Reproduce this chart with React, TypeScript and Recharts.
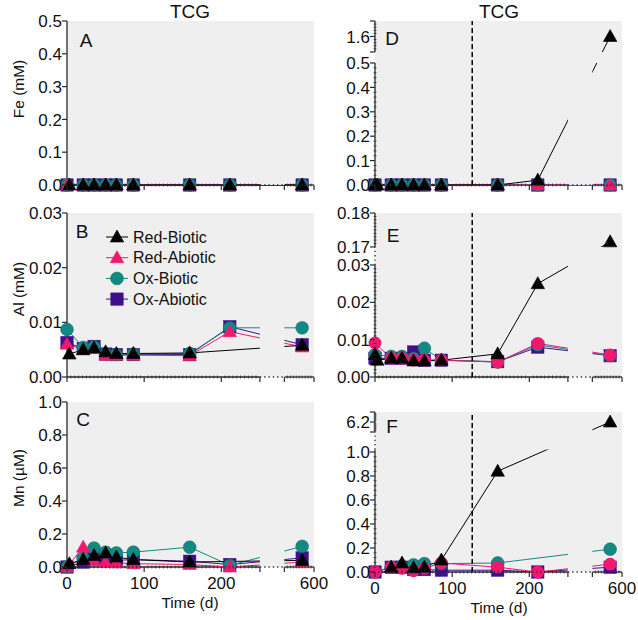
import React from 'react';
import { LineChart, Line, XAxis, YAxis, CartesianGrid, ReferenceLine, ReferenceArea, Legend } from 'recharts';

const FONT = '"Liberation Sans", Arial, Helvetica, sans-serif';
const BG = '#efefef';
const AXIS = '#2a2a2a';
const TEXT = '#111111';

// ---------- data ----------
const days = [0, 3, 21, 35, 50, 64, 86, 159, 211, 580];

// A: Fe (mM), left
const feLeftRedBiotic = [null, 0, 0, 0, 0, 0, 0, 0, 0, 0];
const feLeftRedAbiotic = [0, null, 0, 0, 0, 0, 0, 0, 0, 0];
const feLeftOxBiotic = [0, null, 0, 0, 0, 0, 0, 0, 0, 0];
const feLeftOxAbiotic = [0, null, 0, 0, 0, 0, 0, 0, 0, 0];

// B: Al (mM), left
const alLeftRedBiotic = [null, 0.0042, 0.005, 0.0053, 0.0046, 0.0043, 0.0043, 0.0044, null, 0.0058];
const alLeftRedAbiotic = [0.006, null, 0.005, 0.0052, 0.004, 0.004, 0.004, 0.0039, 0.0083, 0.0055];
const alLeftOxBiotic = [0.0087, null, 0.0054, 0.0055, 0.0042, 0.0041, 0.0042, 0.0043, 0.009, 0.009];
const alLeftOxAbiotic = [0.0063, null, 0.0052, 0.0056, 0.0042, 0.0041, 0.0041, 0.0041, 0.0092, 0.0059];

// C: Mn (uM), left
const mnLeftRedBiotic = [null, 0.02, 0.045, 0.07, 0.085, 0.06, 0.045, 0.03, null, 0.04];
const mnLeftRedAbiotic = [0, null, 0.12, 0.04, 0.03, 0.025, 0.02, 0.015, 0, 0.03];
const mnLeftOxBiotic = [0, null, 0.055, 0.115, 0.09, 0.085, 0.09, 0.12, 0.01, 0.125];
const mnLeftOxAbiotic = [0, null, 0.03, 0.05, 0.05, 0.04, 0.045, 0.035, 0.015, 0.055];

// D: Fe (mM), right
const feRightRedBiotic = [0, 0, 0, 0, 0, 0, 0, 0, 0.02, 1.6];
const feRightRedAbiotic = [0, null, 0, 0, 0, 0, 0, 0, 0, 0];
const feRightOxBiotic = [0, null, 0, 0, 0, 0, 0, 0, 0, 0];
const feRightOxAbiotic = [0, null, 0, 0, 0, 0, 0, 0, 0, 0];

// E: Al (mM), right
const alRightRedBiotic = [0.006, 0.0045, 0.005, 0.005, 0.0043, 0.0043, 0.0045, 0.0062, 0.025, 0.1715];
const alRightRedAbiotic = [0.0091, null, 0.005, 0.005, 0.0045, 0.0045, 0.0045, 0.004, 0.009, 0.0059];
const alRightOxBiotic = [0.006, null, 0.0055, 0.0055, 0.005, 0.0077, 0.0045, 0.004, 0.0086, 0.0057];
const alRightOxAbiotic = [0.005, null, 0.005, 0.005, 0.0067, 0.0045, 0.0045, 0.0041, 0.008, 0.0057];

// F: Mn (uM), right
const mnRightRedBiotic = [null, null, 0.04, 0.075, 0.035, 0.04, 0.1, 0.84, null, 6.2];
const mnRightRedAbiotic = [0, null, 0.04, 0.03, 0.01, 0.03, 0.075, 0.04, 0, 0.065];
const mnRightOxBiotic = [0, null, 0.04, 0.05, 0.06, 0.07, 0.07, 0.075, null, 0.19];
const mnRightOxAbiotic = [0, null, 0.04, 0.04, 0.02, 0.02, 0.015, 0.015, 0, 0.04];

// axis ticks
const xMajorTicks = [0, 100, 200, 250, 550, 600];
const xTickLabels = [0, 100, 200, 600];
const xAllTicks: number[] = [];
for (let t = 0; t <= 250; t += 5) xAllTicks.push(t);
for (let t = 550; t <= 600; t += 5) xAllTicks.push(t);

const feLeftTicks = [0, 0.1, 0.2, 0.3, 0.4, 0.5];
const alLeftTicks = [0, 0.01, 0.02, 0.03];
const mnLeftTicks = [0, 0.2, 0.4, 0.6, 0.8, 1.0];
const feRightTicks = [0, 0.1, 0.2, 0.3, 0.4, 0.5, 1.5, 1.6, 1.7];
const feRightLabels = [0, 0.1, 0.2, 0.3, 0.4, 0.5, 1.6];
const alRightTicks = [0, 0.01, 0.02, 0.03, 0.17, 0.18];
const mnRightTicks = [0, 0.2, 0.4, 0.6, 0.8, 1.0, 6.1, 6.2, 6.3];
const mnRightLabels = [0, 0.2, 0.4, 0.6, 0.8, 1.0, 6.2];

function minorTicks(ranges: [number, number, number][]): number[] {
  const out: number[] = [];
  ranges.forEach(([a, b, step]) => {
    const n = Math.round((b - a) / step);
    for (let i = 0; i <= n; i++) out.push(Math.round((a + i * step) * 1e6) / 1e6);
  });
  return out;
}
const feRightMinor = minorTicks([[0, 0.5, 0.02], [1.5, 1.7, 0.02]]);
const alRightMinor = minorTicks([[0, 0.03, 0.001], [0.17, 0.18, 0.001]]);
const mnRightMinor = minorTicks([[0, 1.0, 0.04], [6.1, 6.3, 0.02]]);

// ---------- series config ----------
type Key = 'rb' | 'ra' | 'ob' | 'oa';
type Shape = 'triangle' | 'circle' | 'square';
const SERIES: { key: Key; name: string; color: string; shape: Shape }[] = [
  { key: 'rb', name: 'Red-Biotic', color: '#000000', shape: 'triangle' },
  { key: 'ra', name: 'Red-Abiotic', color: '#f2176f', shape: 'triangle' },
  { key: 'ob', name: 'Ox-Biotic', color: '#118a84', shape: 'circle' },
  { key: 'oa', name: 'Ox-Abiotic', color: '#3e0f8c', shape: 'square' },
];
const DRAW_ORDER: Key[] = ['oa', 'ob', 'ra', 'rb'];

function buildRows(rb: (number | null)[], ra: (number | null)[], ob: (number | null)[], oa: (number | null)[]) {
  return days.map((day, i) => ({ day, rb: rb[i], ra: ra[i], ob: ob[i], oa: oa[i] }));
}

// ---------- broken (piecewise linear) scale ----------
type Piece = { d: [number, number]; f: [number, number] };
function brokenScale(pieces: Piece[]): any {
  let dom: any[] = [pieces[0].d[0], pieces[pieces.length - 1].d[1]];
  let rng: any[] = [0, 1];
  const frac = (v: number): number => {
    for (let i = 0; i < pieces.length; i++) {
      const p = pieces[i];
      if (v <= p.d[1] || i === pieces.length - 1) {
        if (v >= p.d[0] || i === 0) {
          return p.f[0] + ((v - p.d[0]) / (p.d[1] - p.d[0])) * (p.f[1] - p.f[0]);
        }
        const q = pieces[i - 1];
        return q.f[1] + ((v - q.d[1]) / (p.d[0] - q.d[1])) * (p.f[0] - q.f[1]);
      }
    }
    return 1;
  };
  const unfrac = (fr: number): number => {
    for (let i = 0; i < pieces.length; i++) {
      const p = pieces[i];
      if (fr <= p.f[1] || i === pieces.length - 1) {
        if (fr >= p.f[0] || i === 0) {
          return p.d[0] + ((fr - p.f[0]) / (p.f[1] - p.f[0])) * (p.d[1] - p.d[0]);
        }
        const q = pieces[i - 1];
        return q.d[1] + ((fr - q.f[1]) / (p.f[0] - q.f[1])) * (p.d[0] - q.d[1]);
      }
    }
    return pieces[pieces.length - 1].d[1];
  };
  const s: any = (v: any) => {
    if (v === null || v === undefined) return undefined;
    const n = Number(v);
    if (!isFinite(n)) return undefined;
    return Number(rng[0]) + frac(n) * (Number(rng[1]) - Number(rng[0]));
  };
  s.domain = (d?: any) => {
    if (d === undefined) return dom.slice();
    dom = Array.from(d);
    return s;
  };
  s.range = (r?: any) => {
    if (r === undefined) return rng.slice();
    rng = Array.from(r);
    return s;
  };
  s.copy = () => brokenScale(pieces).domain(dom).range(rng);
  s.ticks = () => dom.slice();
  s.nice = () => s;
  s.tickFormat = () => (x: any) => String(x);
  s.invert = (px: number) => unfrac((px - Number(rng[0])) / (Number(rng[1]) - Number(rng[0])));
  return s;
}

const X_PIECES: Piece[] = [
  { d: [0, 250], f: [0, 0.781] },
  { d: [550, 600], f: [0.88, 1] },
];

// ---------- markers ----------
function MarkerShape({ shape, cx, cy, color }: { shape: Shape; cx: number; cy: number; color: string }) {
  if (shape === 'triangle') {
    const w = 13.5;
    const pts = `${cx},${cy - 7} ${cx + w / 2},${cy + 5} ${cx - w / 2},${cy + 5}`;
    return <polygon points={pts} fill={color} stroke={color} strokeWidth={0.6} strokeLinejoin="miter" />;
  }
  if (shape === 'circle') {
    return <circle cx={cx} cy={cy} r={6.4} fill={color} stroke="#0b5f5b" strokeOpacity={color === '#118a84' ? 0.6 : 0} strokeWidth={0.8} />;
  }
  return <rect x={cx - 6.2} y={cy - 6.2} width={12.4} height={12.4} fill={color} stroke={color} strokeWidth={0.5} />;
}

function makeDot(shape: Shape, color: string) {
  return (p: any) => {
    const key = `dot-${p.index}`;
    if (p.cx == null || p.cy == null || p.value == null) return <g key={key} />;
    return (
      <g key={key}>
        <MarkerShape shape={shape} cx={p.cx} cy={p.cy} color={color} />
      </g>
    );
  };
}

// ---------- ticks ----------
function renderXTick(props: any, showLabel: boolean) {
  const { x, y, payload } = props;
  const v = Number(payload.value);
  const isMajor = xMajorTicks.indexOf(v) >= 0;
  return (
    <g>
      {isMajor ? (
        <line x1={x} x2={x} y1={y} y2={y + 5} stroke={AXIS} strokeWidth={1.2} />
      ) : (
        <line x1={x} x2={x} y1={y - 1.5} y2={y + 1.5} stroke={AXIS} strokeWidth={0.8} />
      )}
      {showLabel && xTickLabels.indexOf(v) >= 0 ? (
        <text x={x} y={y + 22} textAnchor="middle" fontSize={17} fontFamily={FONT} fill={TEXT}>
          {v}
        </text>
      ) : null}
    </g>
  );
}
const XTickLabeled = (props: any) => renderXTick(props, true);
const XTickPlain = (props: any) => renderXTick(props, false);

const near = (list: number[], v: number) => list.some((l) => Math.abs(l - v) < 1e-9);

function makeYTick(majors: number[], labeled: number[], decimals: number) {
  return (props: any) => {
    const { x, y, payload } = props;
    const v = Number(payload.value);
    const isMajor = near(majors, v);
    const show = near(labeled, v);
    return (
      <g>
        {isMajor ? (
          <line x1={x - 5} x2={x} y1={y} y2={y} stroke={AXIS} strokeWidth={1.2} />
        ) : (
          <line x1={x - 1.5} x2={x + 1.5} y1={y} y2={y} stroke={AXIS} strokeWidth={0.8} />
        )}
        {show ? (
          <text x={x - 5} y={y} dy="0.36em" textAnchor="end" fontSize={17} fontFamily={FONT} fill={TEXT}>
            {v.toFixed(decimals)}
          </text>
        ) : null}
      </g>
    );
  };
}

// ---------- panels ----------
interface PanelCfg {
  id: string;
  plotX: number;
  top: number;
  bottom: number;
  showXLabels: boolean;
  rows: any[];
  yDomain: [number, number];
  yScale: any;
  yTicks: number[];
  yTick: (p: any) => any;
  ySolid: [number, number][];
  yDotted: [number, number][];
  yGaps: [number, number][];
  dashedX: number | null;
  shapes: Record<Key, Shape>;
  legend: boolean;
}

const defaultShapes: Record<Key, Shape> = { rb: 'triangle', ra: 'triangle', ob: 'circle', oa: 'square' };
const rightCircleShapes: Record<Key, Shape> = { rb: 'triangle', ra: 'circle', ob: 'circle', oa: 'square' };

const LEFT_X = 67;
const RIGHT_X = 375;
const PLOT_W = 247;
const Y_AXIS_W = 60;
const DASHED_DAY = 126;

const mergeTicks = (a: number[], b: number[]) => {
  const out = a.slice();
  b.forEach((v) => {
    if (!near(out, v)) out.push(v);
  });
  return out.sort((p, q) => p - q);
};

const PANELS: PanelCfg[] = [
  {
    id: 'A', plotX: LEFT_X, top: 21, bottom: 185, showXLabels: false,
    rows: buildRows(feLeftRedBiotic, feLeftRedAbiotic, feLeftOxBiotic, feLeftOxAbiotic),
    yDomain: [0, 0.5], yScale: brokenScale([{ d: [0, 0.5], f: [0, 1] }]),
    yTicks: feLeftTicks, yTick: makeYTick(feLeftTicks, feLeftTicks, 1),
    ySolid: [[0, 0.5]], yDotted: [], yGaps: [], dashedX: null, shapes: defaultShapes, legend: false,
  },
  {
    id: 'B', plotX: LEFT_X, top: 213, bottom: 377, showXLabels: false,
    rows: buildRows(alLeftRedBiotic, alLeftRedAbiotic, alLeftOxBiotic, alLeftOxAbiotic),
    yDomain: [0, 0.03], yScale: brokenScale([{ d: [0, 0.03], f: [0, 1] }]),
    yTicks: alLeftTicks, yTick: makeYTick(alLeftTicks, alLeftTicks, 2),
    ySolid: [[0, 0.03]], yDotted: [], yGaps: [], dashedX: null, shapes: defaultShapes, legend: true,
  },
  {
    id: 'C', plotX: LEFT_X, top: 402, bottom: 567, showXLabels: true,
    rows: buildRows(mnLeftRedBiotic, mnLeftRedAbiotic, mnLeftOxBiotic, mnLeftOxAbiotic),
    yDomain: [0, 1], yScale: brokenScale([{ d: [0, 1], f: [0, 1] }]),
    yTicks: mnLeftTicks, yTick: makeYTick(mnLeftTicks, mnLeftTicks, 1),
    ySolid: [[0, 1]], yDotted: [], yGaps: [], dashedX: null, shapes: defaultShapes, legend: false,
  },
  {
    id: 'D', plotX: RIGHT_X, top: 21, bottom: 185, showXLabels: false,
    rows: buildRows(feRightRedBiotic, feRightRedAbiotic, feRightOxBiotic, feRightOxAbiotic),
    yDomain: [0, 1.7],
    yScale: brokenScale([{ d: [0, 0.5], f: [0, 0.744] }, { d: [1.5, 1.7], f: [0.811, 1] }]),
    yTicks: mergeTicks(feRightTicks, feRightMinor), yTick: makeYTick(feRightTicks, feRightLabels, 1),
    ySolid: [[0, 0.5], [1.5, 1.7]], yDotted: [], yGaps: [[0.5, 1.5]], dashedX: DASHED_DAY,
    shapes: defaultShapes, legend: false,
  },
  {
    id: 'E', plotX: RIGHT_X, top: 213, bottom: 377, showXLabels: false,
    rows: buildRows(alRightRedBiotic, alRightRedAbiotic, alRightOxBiotic, alRightOxAbiotic),
    yDomain: [0, 0.18],
    yScale: brokenScale([{ d: [0, 0.03], f: [0, 0.683] }, { d: [0.17, 0.18], f: [0.793, 1] }]),
    yTicks: mergeTicks(alRightTicks, alRightMinor), yTick: makeYTick(alRightTicks, alRightTicks, 2),
    ySolid: [[0, 0.03], [0.17, 0.18]], yDotted: [[0.03, 0.17]], yGaps: [[0.03, 0.17]], dashedX: DASHED_DAY,
    shapes: rightCircleShapes, legend: false,
  },
  {
    id: 'F', plotX: RIGHT_X, top: 412, bottom: 572, showXLabels: true,
    rows: buildRows(mnRightRedBiotic, mnRightRedAbiotic, mnRightOxBiotic, mnRightOxAbiotic),
    yDomain: [0, 6.3],
    yScale: brokenScale([{ d: [0, 1.02], f: [0, 0.765] }, { d: [6.1, 6.3], f: [0.875, 1] }]),
    yTicks: mergeTicks(mnRightTicks, mnRightMinor), yTick: makeYTick(mnRightTicks, mnRightLabels, 1),
    ySolid: [[0, 1.02], [6.1, 6.3]], yDotted: [[1.02, 6.1]], yGaps: [[1.02, 6.1]], dashedX: DASHED_DAY,
    shapes: rightCircleShapes, legend: false,
  },
];

const X_SCALES: Record<string, any> = {};
PANELS.forEach((p) => {
  X_SCALES[p.id] = brokenScale(X_PIECES);
});

function LegendContent() {
  return (
    <svg width={170} height={90} style={{ overflow: 'visible' }}>
      {SERIES.map((s, i) => {
        const cy = 10 + i * 20.7;
        return (
          <g key={s.key}>
            <line x1={6} x2={28} y1={cy} y2={cy} stroke={s.color} strokeWidth={1} />
            <MarkerShape shape={s.shape} cx={17} cy={cy} color={s.color} />
            <text x={33} y={cy} dy="0.36em" fontSize={16} fontFamily={FONT} fill={TEXT}>
              {s.name}
            </text>
          </g>
        );
      })}
    </svg>
  );
}

function Panel({ cfg }: { cfg: PanelCfg }) {
  const plotH = cfg.bottom - cfg.top;
  const xh = cfg.showXLabels ? 40 : 12;
  const W = Y_AXIS_W + PLOT_W + 20;
  const H = 10 + plotH + xh;
  const [yLo, yHi] = cfg.yDomain;
  const seriesByKey: Record<string, (typeof SERIES)[number]> = {};
  SERIES.forEach((s) => (seriesByKey[s.key] = s));

  return (
    <div style={{ position: 'absolute', left: cfg.plotX - Y_AXIS_W, top: cfg.top - 10, width: W, height: H }}>
      <LineChart width={W} height={H} data={cfg.rows} margin={{ top: 10, right: 20, bottom: 0, left: 0 }}>
        <CartesianGrid fill={BG} stroke="none" horizontal={false} vertical={false} />
        <XAxis
          dataKey="day"
          type="number"
          domain={[0, 600]}
          scale={X_SCALES[cfg.id]}
          ticks={xAllTicks}
          interval={0}
          tickSize={0}
          tickMargin={0}
          axisLine={false}
          tickLine={false}
          height={xh}
          tick={cfg.showXLabels ? XTickLabeled : XTickPlain}
          zIndex={350}
        />
        <YAxis
          type="number"
          domain={cfg.yDomain}
          scale={cfg.yScale}
          ticks={cfg.yTicks}
          interval={0}
          tickSize={0}
          tickMargin={0}
          axisLine={false}
          tickLine={false}
          width={Y_AXIS_W}
          tick={cfg.yTick}
          zIndex={350}
        />
        {/* solid axis lines */}
        <ReferenceLine
          segment={[{ x: 0, y: yLo }, { x: 250, y: yLo }]}
          stroke={AXIS}
          strokeWidth={1.3}
          ifOverflow="visible"
          zIndex={390}
        />
        <ReferenceLine
          segment={[{ x: 550, y: yLo }, { x: 600, y: yLo }]}
          stroke={AXIS}
          strokeWidth={1.3}
          ifOverflow="visible"
          zIndex={390}
        />
        {cfg.ySolid.map(([a, b], i) => (
          <ReferenceLine
            key={`ys-${i}`}
            segment={[{ x: 0, y: a }, { x: 0, y: b }]}
            stroke={AXIS}
            strokeWidth={1.3}
            ifOverflow="visible"
            zIndex={390}
          />
        ))}
        {DRAW_ORDER.map((k) => {
          const s = seriesByKey[k];
          const shape = cfg.shapes[k];
          return (
            <Line
              key={k}
              dataKey={k}
              name={s.name}
              stroke={s.color}
              strokeWidth={1}
              dot={makeDot(shape, s.color)}
              activeDot={false}
              connectNulls
              isAnimationActive={false}
            />
          );
        })}
        {/* masks for axis breaks */}
        <ReferenceArea
          x1={250}
          x2={550}
          y1={yLo}
          y2={yHi}
          fill={BG}
          fillOpacity={1}
          stroke="none"
          ifOverflow="visible"
          zIndex={450}
        />
        {cfg.yGaps.map(([a, b], i) => (
          <ReferenceArea
            key={`yg-${i}`}
            x1={0}
            x2={600}
            y1={a}
            y2={b}
            fill={BG}
            fillOpacity={1}
            stroke="none"
            ifOverflow="visible"
            zIndex={450}
          />
        ))}
        {/* dotted break segments */}
        <ReferenceLine
          segment={[{ x: 250, y: yLo }, { x: 550, y: yLo }]}
          stroke={AXIS}
          strokeWidth={1.3}
          strokeDasharray="1.3 3"
          ifOverflow="visible"
          zIndex={460}
        />
        {cfg.yDotted.map(([a, b], i) => (
          <ReferenceLine
            key={`yd-${i}`}
            segment={[{ x: 0, y: a }, { x: 0, y: b }]}
            stroke={AXIS}
            strokeWidth={1.3}
            strokeDasharray="1.3 3"
            ifOverflow="visible"
            zIndex={460}
          />
        ))}
        {cfg.dashedX !== null ? (
          <ReferenceLine
            x={cfg.dashedX}
            stroke="#000"
            strokeWidth={1.5}
            strokeDasharray="5 3"
            ifOverflow="visible"
            zIndex={460}
          />
        ) : null}
        {cfg.legend ? (
          <Legend
            layout="vertical"
            align="center"
            verticalAlign="middle"
            content={() => <LegendContent />}
            wrapperStyle={{ left: 93, top: 24, width: 170, height: 90 }}
          />
        ) : null}
      </LineChart>
    </div>
  );
}

const TITLES = [
  { text: 'TCG', x: 190, y: 18 },
  { text: 'TCG', x: 499, y: 18 },
];
const LETTERS = [
  { text: 'A', x: 86, y: 47 },
  { text: 'B', x: 82, y: 238 },
  { text: 'C', x: 83, y: 426 },
  { text: 'D', x: 392, y: 45 },
  { text: 'E', x: 393, y: 242 },
  { text: 'F', x: 392, y: 433 },
];
const Y_LABELS = [
  { text: 'Fe (mM)', x: 18, y: 89 },
  { text: 'Al (mM)', x: 18, y: 289 },
  { text: 'Mn (\u00B5M)', x: 18, y: 478 },
];
const X_LABELS = [
  { text: 'Time (d)', x: 190, y: 608 },
  { text: 'Time (d)', x: 499, y: 613 },
];

export default function App() {
  return (
    <div
      style={{
        position: 'absolute',
        left: 0,
        top: 0,
        width: 638,
        height: 620,
        overflow: 'hidden',
        background: '#ffffff',
        fontFamily: FONT,
      }}
    >
      {PANELS.map((p) => (
        <Panel key={p.id} cfg={p} />
      ))}
      <svg
        width={638}
        height={620}
        style={{ position: 'absolute', left: 0, top: 0, pointerEvents: 'none' }}
        fontFamily={FONT}
      >
        {TITLES.map((t, i) => (
          <text key={`t-${i}`} x={t.x} y={t.y} textAnchor="middle" fontSize={19} fill={TEXT}>
            {t.text}
          </text>
        ))}
        {LETTERS.map((t, i) => (
          <text key={`l-${i}`} x={t.x} y={t.y} textAnchor="middle" fontSize={19} fill={TEXT}>
            {t.text}
          </text>
        ))}
        {Y_LABELS.map((t, i) => (
          <text
            key={`y-${i}`}
            transform={`translate(${t.x},${t.y}) rotate(-90)`}
            textAnchor="middle"
            dominantBaseline="central"
            fontSize={15.5}
            fill={TEXT}
          >
            {t.text}
          </text>
        ))}
        {X_LABELS.map((t, i) => (
          <text key={`x-${i}`} x={t.x} y={t.y} textAnchor="middle" fontSize={15.5} fill={TEXT}>
            {t.text}
          </text>
        ))}
      </svg>
    </div>
  );
}
